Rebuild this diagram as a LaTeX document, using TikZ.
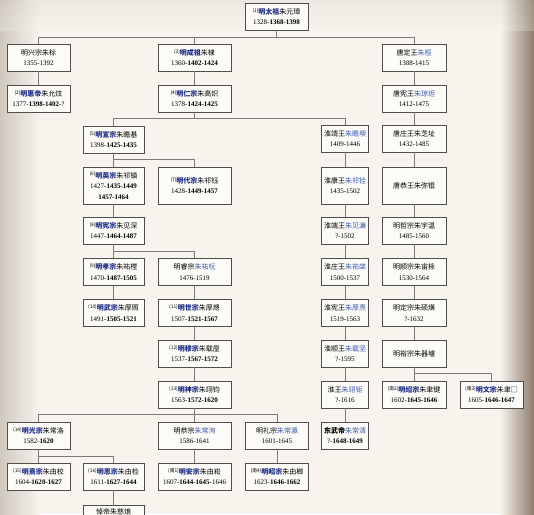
\documentclass[tikz,border=0pt]{standalone}
\usepackage{fontspec}
\setmainfont{Noto Sans CJK SC}
\newfontfamily\numfont{Liberation Serif}
\definecolor{cream}{HTML}{F7F4EE}
\definecolor{edgegray}{HTML}{CFC8BE}
\definecolor{edgebrown}{HTML}{8C7B6B}
\definecolor{boxline}{HTML}{4E4E4E}
\definecolor{linkgray}{HTML}{7A7A7A}
\definecolor{miaoblue}{HTML}{1C2C86}
\definecolor{mingblue}{HTML}{3A5AAE}
\newcommand{\miao}[1]{\textcolor{miaoblue}{\bfseries #1}}
\newcommand{\ming}[1]{\textcolor{mingblue}{#1}}
\newcommand{\xu}[1]{\raisebox{2.2pt}{\fontsize{4.8}{5}\selectfont(#1)}}
\newcommand{\nian}[2]{{\numfont #1-\textbf{#2}}}
\newcommand{\sui}[1]{{\numfont #1}}
\tikzset{
	box/.style={draw=boxline, fill=white!60!cream, line width=0.9pt, minimum height=27pt,
		inner sep=1pt, align=center, font=\fontsize{7}{10.5}\selectfont},
	tall/.style={minimum height=37pt},
	wa/.style={minimum width=63pt},
	wb/.style={minimum width=61pt},
	wc/.style={minimum width=73pt},
	wd/.style={minimum width=47pt},
	we/.style={minimum width=64pt},
	link/.style={draw=linkgray, line width=0.8pt}
}
\begin{document}
\begin{tikzpicture}[x=1pt,y=-1pt]
		\useasboundingbox (0,0) rectangle (534,514);
		\fill[cream] (0,0) rectangle (534,514);
		\shade[left color=edgegray, right color=cream] (0,0) rectangle (40,514);
		\shade[left color=cream, right color=edgebrown] (500,0) rectangle (534,514);
		\shade[top color=edgegray, bottom color=cream, opacity=0.25] (0,0) rectangle (534,30);
		
		\node[box, wa] (taizu) at (276.5,16.5) {\xu{1}\miao{明太祖}朱元璋\\\nian{1328}{1368-1398}};
		
		\node[box, wa] (xingzong) at (38.5,57.5) {明兴宗朱标\\\sui{1355-1392}};
		\node[box, wc] (chengzu) at (194.5,57.5) {\xu{3}\miao{明成祖}朱棣\\\nian{1360}{1402-1424}};
		\node[box, we] (tangding) at (414,57.5) {唐定王\ming{朱桱}\\\sui{1388-1415}};
		
		\node[box, wa] (huidi) at (38.5,98.5) {\xu{2}\miao{明惠帝}朱允炆\\\nian{1377}{1398-1402}\sui{-?}};
		\node[box, wc] (renzong) at (194.5,98.5) {\xu{4}\miao{明仁宗}朱高炽\\\nian{1378}{1424-1425}};
		\node[box, we] (tangxian) at (414,98.5) {唐宪王\ming{朱琼炟}\\\sui{1412-1475}};
		
		\node[box, wb] (xuanzong) at (113.5,139.5) {\xu{5}\miao{明宣宗}朱瞻基\\\nian{1398}{1425-1435}};
		\node[box, wd] (huaijing) at (345,138.5) {淮靖王\ming{朱瞻墺}\\\sui{1409-1446}};
		\node[box, we] (tangzhuang) at (414,138.5) {唐庄王朱芝址\\\sui{1432-1485}};
		
		\node[box, wb, tall] (yingzong) at (113.5,185.5) {\xu{6}\miao{明英宗}朱祁镇\\\nian{1427}{1435-1449}\\{\numfont\bfseries 1457-1464}};
		\node[box, wc, tall] (daizong) at (194.5,185.5) {\xu{7}\miao{明代宗}朱祁钰\\\nian{1428}{1449-1457}};
		\node[box, wd, tall] (huaikang) at (345,185.5) {淮康王\ming{朱祁铨}\\\sui{1435-1502}};
		\node[box, we, tall] (tanggong) at (414,185.5) {唐恭王朱弥锟};
		
		\node[box, wb] (xianzong) at (113.5,230.5) {\xu{8}\miao{明宪宗}朱见深\\\nian{1447}{1464-1487}};
		\node[box, wd] (huaiduan) at (345,230.5) {淮端王\ming{朱见濂}\\\sui{?-1502}};
		\node[box, we] (yuwen) at (414,230.5) {明哲宗朱宇温\\\sui{1485-1560}};
		
		\node[box, wb] (xiaozong) at (113.5,272) {\xu{9}\miao{明孝宗}朱祐樘\\\nian{1470}{1487-1505}};
		\node[box, wc] (ruizong) at (194.5,272) {明睿宗\ming{朱祐杬}\\\sui{1476-1519}};
		\node[box, wd] (huaizhuang) at (345,272) {淮庄王\ming{朱祐棨}\\\sui{1500-1537}};
		\node[box, we] (zhouyong) at (414,272) {明顺宗朱宙栐\\\sui{1530-1564}};
		
		\node[box, wb] (wuzong) at (113.5,313) {\xu{10}\miao{明武宗}朱厚照\\\nian{1491}{1505-1521}};
		\node[box, wc] (shizong) at (194.5,313) {\xu{11}\miao{明世宗}朱厚熜\\\nian{1507}{1521-1567}};
		\node[box, wd] (huaixian) at (345,313) {淮宪王\ming{朱厚焘}\\\sui{1519-1563}};
		\node[box, we] (shuohuang) at (414,313) {明定宗朱硕熿\\\sui{?-1632}};
		
		\node[box, wc] (muzong) at (194.5,353.5) {\xu{12}\miao{明穆宗}朱载垕\\\nian{1537}{1567-1572}};
		\node[box, wd] (huaishun) at (345,353.5) {淮顺王\ming{朱载坚}\\\sui{?-1595}};
		\node[box, we] (qicheng) at (414,353.5) {明裕宗朱器墭};
		
		\node[box, wc] (shenzong) at (194.5,394.5) {\xu{13}\miao{明神宗}朱翊钧\\\nian{1563}{1572-1620}};
		\node[box, wd] (huaiwang) at (345,394.5) {淮王\ming{朱翊钜}\\\sui{?-1616}};
		\node[box, we] (shaozong) at (414,394.5) {\xu{南2}\miao{明绍宗}朱聿键\\\nian{1602}{1645-1646}};
		\node[box, wa] (wenzong) at (491.5,394.5) {\xu{南3}\miao{明文宗}朱聿□\\\nian{1605}{1646-1647}};
		
		\node[box, wa] (guangzong) at (38.5,435.5) {\xu{14}\miao{明光宗}朱常洛\\\nian{1582}{1620}};
		\node[box, wc] (gongzong) at (194.5,435.5) {明恭宗\ming{朱常洵}\\\sui{1586-1641}};
		\node[box, wa] (lizong) at (277,435.5) {明礼宗\ming{朱常瀛}\\\sui{1601-1645}};
		\node[box, wd] (dongwu) at (345,435.5) {\textbf{东武帝}\ming{朱常清}\\\nian{?}{1648-1649}};
		
		\node[box, wa] (xizong) at (38.5,476.5) {\xu{15}\miao{明熹宗}朱由校\\\nian{1604}{1620-1627}};
		\node[box, wb] (sizong) at (113.5,476.5) {\xu{16}\miao{明思宗}朱由检\\\nian{1611}{1627-1644}};
		\node[box, wc] (anzong) at (194.5,476.5) {\xu{南1}\miao{明安宗}朱由崧\\\nian{1607}{1644-1645}\sui{-1646}};
		\node[box, wa] (zhaozong) at (277,476.5) {\xu{南4}\miao{明昭宗}朱由榔\\\nian{1623}{1646-1662}};
		
		\node[box, wb, anchor=north, minimum height=13pt, inner sep=1.5pt] (daodi) at (113.5,504.5) {悼帝朱慈烺};
		
		\coordinate (f0) at (276.5,37);
		\coordinate (f1) at (194.5,118);
		\coordinate (f2) at (113.5,159);
		\coordinate (f3) at (113.5,251);
		\coordinate (f4) at (194.5,414);
		\coordinate (f5) at (38.5,456);
		\coordinate (f6) at (414,373);
		
		\draw[link] (taizu) -- (f0);
		\foreach \n in {xingzong,chengzu,tangding}
			\draw[link] (\n) |- (f0);
		\draw[link] (renzong) -- (f1);
		\foreach \n in {xuanzong,huaijing}
			\draw[link] (\n) |- (f1);
		\draw[link] (daizong) |- (f2);
		\draw[link] (ruizong) |- (f3);
		\draw[link] (shenzong) -- (f4);
		\foreach \n in {guangzong,lizong}
			\draw[link] (\n) |- (f4);
		\draw[link] (sizong) |- (f5);
		\draw[link] (wenzong) |- (f6);
		
		\foreach \a/\b in {xingzong/huidi, chengzu/renzong, tangding/tangxian, tangxian/tangzhuang,
			tangzhuang/tanggong, tanggong/yuwen, yuwen/zhouyong, zhouyong/shuohuang, shuohuang/qicheng,
			qicheng/shaozong, huaijing/huaikang, huaikang/huaiduan, huaiduan/huaizhuang,
			huaizhuang/huaixian, huaixian/huaishun, huaishun/huaiwang, huaiwang/dongwu,
			xuanzong/yingzong, yingzong/xianzong, xianzong/xiaozong, xiaozong/wuzong,
			ruizong/shizong, shizong/muzong, muzong/shenzong, shenzong/gongzong, gongzong/anzong,
			lizong/zhaozong, guangzong/xizong, sizong/daodi}
			\draw[link] (\a) -- (\b);
	\end{tikzpicture}
\end{document}
